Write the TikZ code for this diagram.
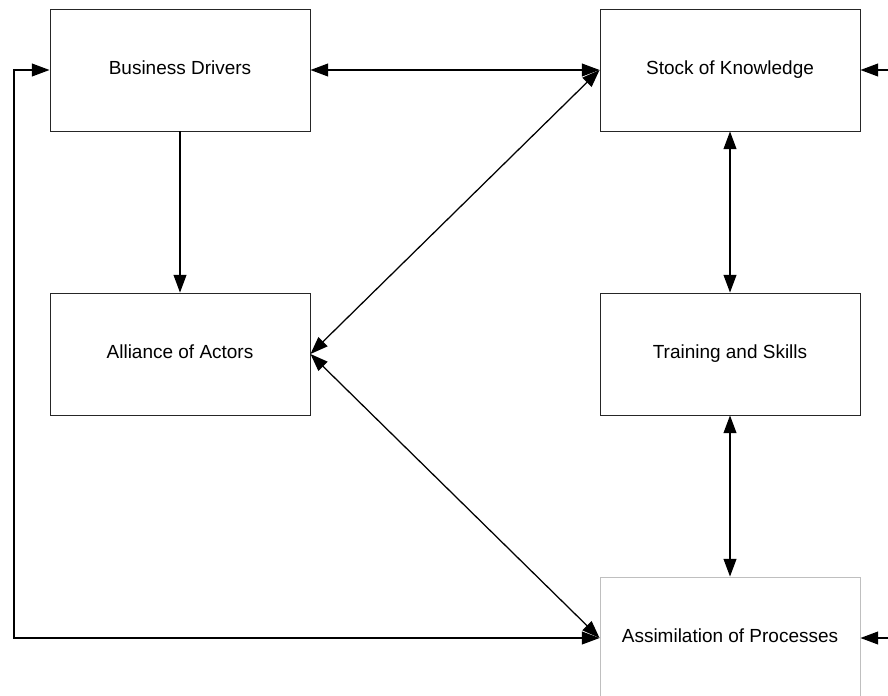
\documentclass[tikz,border=0pt]{standalone}
\usepackage{fontspec}
\setmainfont{Liberation Sans}
\usepackage{xcolor}
\usetikzlibrary{arrows.meta}

\begin{document}
\begin{tikzpicture}[x=0.025cm, y=-0.025cm, >={Triangle[length=4.4mm, width=3.2mm]},
    block/.style={draw=black!85, line width=0.6pt, rectangle, minimum width=6.5cm, minimum height=3.05cm, text height=0.7em, text depth=0pt, font=\fontsize{13.5}{16}\selectfont},
    link/.style={<->, line width=0.9pt}]
            % Frame of the page
            \path[use as bounding box, clip] (0,0) rectangle (888,696);

            % Left column
            \node[block] (Drivers) at (180,70) {Business Drivers};
            \node[block] (Alliance) at (180,354) {Alliance of Actors};

            % Right column
            \node[block] (Stock) at (730,70) {Stock of Knowledge};
            \node[block] (Training) at (730,354) {Training and Skills};
            \node[block, draw=black!25] (Assim) at (730,638) {Assimilation of Processes};

            % Loose ends at the edges
            \coordinate (Loop-L) at (14,70);
            \coordinate (In-1) at (900,70);
            \coordinate (In-2) at (900,638);

            % Connections
            \draw[->, line width=0.9pt] (Drivers.south) -- (Alliance.north);
            \draw[link] (Drivers.east) -- (Stock.west);
            \draw[link] (Stock.west) -- (Alliance.east);
            \draw[link] (Alliance.east) -- (Assim.west);
            \draw[link] (Stock.south) -- (Training.north);
            \draw[link] (Training.south) -- (Assim.north);
            \draw[link] (Drivers.west) -- (Loop-L) |- (Assim.west);
            \draw[->, line width=0.9pt] (In-1) -- (Stock.east);
            \draw[->, line width=0.9pt] (In-2) -- (Assim.east);

        \end{tikzpicture}
\end{document}
